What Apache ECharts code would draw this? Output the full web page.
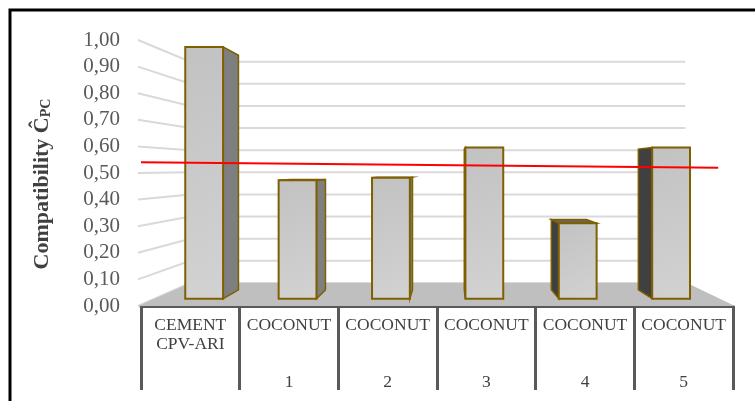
<!DOCTYPE html>
<html><head><meta charset="utf-8">
<script src="https://cdn.jsdelivr.net/npm/echarts@6/dist/echarts.min.js"></script>
<style>html,body{margin:0;padding:0;background:#fff}#c{width:755px;height:401px}</style>
</head><body><div id="c"></div>
<script>
// ---- data ----
const categories = ['CEMENT\nCPV-ARI', 'COCONUT\n\n\n1', 'COCONUT\n\n\n2', 'COCONUT\n\n\n3', 'COCONUT\n\n\n4', 'COCONUT\n\n\n5'];
const compatibility = [1.00, 0.47, 0.48, 0.60, 0.30, 0.60];
const yTicks = [0, 0.1, 0.2, 0.3, 0.4, 0.5, 0.6, 0.7, 0.8, 0.9, 1.0];
const refLineX = [0, 0.975];
const refLineY = [0.54, 0.52];

// ---- perspective geometry (style constants) ----
const VPX = 0.52, VPY = 0.485;         // vanishing point, fraction of grid
const WALL_S = 0.832;                   // back wall scale
const BAR_FRONT_S = 0.9465, BAR_BACK_S = 0.882;
const BAR_W = 0.405;
const FONT = 'Liberation Serif';

function vpOf(cs) { return [cs.x + VPX * cs.width, cs.y + VPY * cs.height]; }
function proj(vp, p, s) { return [vp[0] + s * (p[0] - vp[0]), vp[1] + s * (p[1] - vp[1])]; }

function renderBackground(params, api) {
  const cs = params.coordSys;
  const vp = vpOf(cs);
  const x0 = cs.x - 3, x1 = cs.x + cs.width + 2;
  const yb = api.coord([0, 0])[1];
  const children = [];
  yTicks.forEach(function (v) {
    const yv = api.coord([0, v])[1];
    const bl = proj(vp, [x0, yv], WALL_S);
    const br = proj(vp, [cs.x + cs.width, yv], WALL_S);
    children.push({ type: 'polyline', shape: { points: [[x0, yv], bl, br] },
      style: { stroke: '#d9d9d9', lineWidth: 2, fill: null } });
  });
  children.push({ type: 'polygon', shape: { points: [[x0, yb], [x1, yb], proj(vp, [x1, yb], WALL_S), proj(vp, [x0, yb], WALL_S)] },
    style: { fill: '#bfbfbf' } });
  return { type: 'group', children: children };
}

function renderBar(params, api) {
  const cs = params.coordSys;
  const vp = vpOf(cs);
  const i = api.value(0), v = api.value(1);
  const c = api.coord([i, v]);
  const b = api.coord([i, 0]);
  const bw = api.size([1, 0])[0] * BAR_W;
  const xl = c[0] - bw / 2, xr = c[0] + bw / 2, yt = c[1], yb = b[1];
  const F = function (p) { return proj(vp, p, BAR_FRONT_S); };
  const B = function (p) { return proj(vp, p, BAR_BACK_S); };
  const edge = '#7f6000';
  const ch = [];
  if (F([xr, yt])[0] < vp[0]) {
    ch.push({ type: 'polygon', shape: { points: [F([xr, yt]), B([xr, yt]), B([xr, yb]), F([xr, yb])] },
      style: { fill: '#7f7f7f', stroke: edge, lineWidth: 1.5 } });
  }
  if (F([xl, yt])[0] > vp[0]) {
    ch.push({ type: 'polygon', shape: { points: [F([xl, yt]), B([xl, yt]), B([xl, yb]), F([xl, yb])] },
      style: { fill: '#404040', stroke: edge, lineWidth: 1.5 } });
  }
  if (yt > vp[1]) {
    ch.push({ type: 'polygon', shape: { points: [F([xl, yt]), F([xr, yt]), B([xr, yt]), B([xl, yt])] },
      style: { fill: '#6b6458', stroke: edge, lineWidth: 1.5 } });
  }
  const f1 = F([xl, yt]), f2 = F([xr, yb]);
  ch.push({ type: 'rect', shape: { x: f1[0], y: f1[1], width: f2[0] - f1[0], height: f2[1] - f1[1] },
    style: { fill: new echarts.graphic.LinearGradient(0, 0, 1, 1, [{ offset: 0, color: '#c2c2c2' }, { offset: 1, color: '#d2d2d2' }]),
      stroke: edge, lineWidth: 2 } });
  return { type: 'group', children: ch };
}

const chart = echarts.init(document.getElementById('c'), null, { renderer: 'canvas' });
chart.setOption({
  animation: false,
  backgroundColor: '#fff',
  grid: { left: 141, right: 22, top: 40, bottom: 95 },
  xAxis: [{
    type: 'category', data: categories, boundaryGap: true,
    axisLine: { show: true, lineStyle: { color: '#595959', width: 3 } },
    axisTick: { show: true, interval: 0, length: 84, lineStyle: { color: '#595959', width: 3 } },
    axisLabel: { interval: 0, margin: 10, color: '#404040', fontFamily: FONT, fontSize: 17.5, lineHeight: 19 },
    splitLine: { show: false }
  }, {
    type: 'value', min: 0, max: 1, show: false
  }],
  yAxis: [{
    type: 'value', min: 0, max: 1, interval: 0.1,
    axisLine: { show: false }, axisTick: { show: false }, splitLine: { show: false },
    axisLabel: { margin: 21, color: '#595959', fontFamily: FONT, fontSize: 21,
      formatter: function (v) { return v.toFixed(2).replace('.', ','); } }
  }],
  series: [
    { type: 'custom', xAxisIndex: 0, yAxisIndex: 0, data: [[0, 0]], renderItem: renderBackground, z: 1, silent: true },
    { type: 'custom', xAxisIndex: 0, yAxisIndex: 0, data: compatibility.map(function (v, i) { return [i, v]; }), renderItem: renderBar, z: 2 },
    { type: 'line', xAxisIndex: 1, yAxisIndex: 0, data: refLineX.map(function (x, i) { return [x, refLineY[i]]; }),
      symbol: 'none', lineStyle: { color: '#ff0000', width: 2 }, z: 5 }
  ],
  graphic: [
    { type: 'rect', shape: { x: 10, y: 10, width: 800, height: 500 }, style: { fill: 'none', stroke: '#000', lineWidth: 3 }, z: 10 },
    { type: 'text', x: 42, y: 184, rotation: Math.PI / 2,
      style: { text: '{a|Compatibility Ĉ}{b|PC}', align: 'center', verticalAlign: 'middle',
        rich: { a: { fontFamily: FONT, fontWeight: 'bold', fontSize: 22, fill: '#404040' },
                b: { fontFamily: FONT, fontWeight: 'bold', fontSize: 14, fill: '#404040', padding: [9, 0, 0, 0] } } } }
  ]
});
</script>
</body></html>
